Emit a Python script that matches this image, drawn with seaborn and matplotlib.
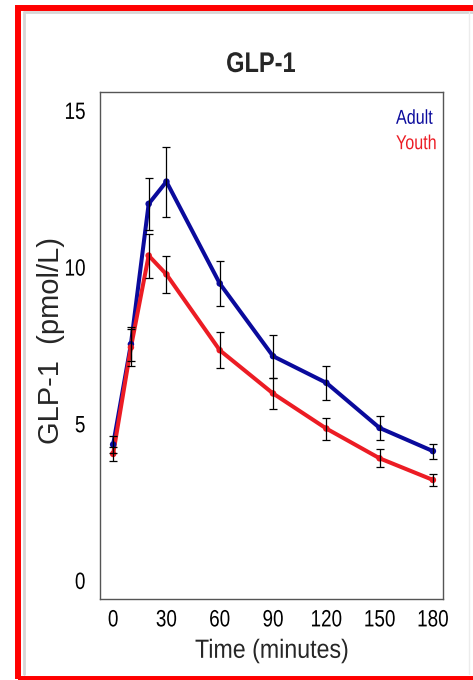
import numpy as np
import pandas as pd
import matplotlib
matplotlib.use("Agg")
import matplotlib.pyplot as plt
from matplotlib.patches import Rectangle
from matplotlib.lines import Line2D
from matplotlib.patheffects import AbstractPathEffect
from matplotlib.transforms import Affine2D
import seaborn as sns

# Sampling times (minutes) and GLP-1 means / standard errors (pmol/L)
time_min = [0, 10, 20, 30, 60, 90, 120, 150, 180]
adult_mean = [4.35, 7.55, 12.03, 12.74, 9.49, 7.17, 6.32, 4.88, 4.14]
adult_se = [0.28, 0.55, 0.84, 1.12, 0.73, 0.69, 0.55, 0.38, 0.24]
youth_mean = [4.05, 7.45, 10.38, 9.78, 7.36, 5.98, 4.86, 3.91, 3.22]
youth_se = [0.23, 0.60, 0.70, 0.60, 0.57, 0.49, 0.35, 0.29, 0.19]

groups = ["Adult", "Youth"]
group_colors = {"Adult": "#0a0a9c", "Youth": "#ec1c24"}
x_ticks = [0, 30, 60, 90, 120, 150, 180]
y_ticks = [0, 5, 10, 15]

df = pd.DataFrame({
    "time": time_min * 2,
    "glp1": adult_mean + youth_mean,
    "se": adult_se + youth_se,
    "group": ["Adult"] * len(time_min) + ["Youth"] * len(time_min),
})


class Tall(AbstractPathEffect):
    """Stretch text glyphs vertically (a condensed look at a smaller size)."""

    def __init__(self, sy, anchor="center"):
        super().__init__()
        self.sy = sy
        self.anchor = anchor

    def draw_path(self, renderer, gc, tpath, affine, rgbFace=None):
        ext = tpath.get_extents()
        y0 = {"baseline": 0.0, "top": ext.y1,
              "center": 0.5 * (ext.y0 + ext.y1)}[self.anchor]
        t = Affine2D().translate(0, -y0).scale(1, self.sy).translate(0, y0) + affine
        renderer.draw_path(gc, tpath, t, rgbFace)


sns.set_style("white")
plt.rcParams["font.family"] = ["Liberation Sans", "DejaVu Sans"]

fig = plt.figure(figsize=(4.73, 6.80), dpi=100)
ax = fig.add_axes([100 / 473, 81 / 680, 343 / 473, 507 / 680])

sns.lineplot(data=df, x="time", y="glp1", hue="group", palette=group_colors,
             linewidth=2.9, legend=False, ax=ax, zorder=3)
sns.scatterplot(data=df, x="time", y="glp1", hue="group", palette=group_colors,
                s=22, linewidth=0, legend=False, ax=ax, zorder=4)
for g in groups:
    sub = df[df["group"] == g]
    ax.errorbar(sub["time"], sub["glp1"], yerr=sub["se"], fmt="none",
                ecolor="black", elinewidth=0.9, capsize=2.6, capthick=0.9,
                zorder=5)

ax.set_xlim(-7.4, 185.7)
ax.set_ylim(-0.58, 15.6)
ax.set_xticks(x_ticks)
ax.set_yticks(y_ticks)
ax.set_xticklabels([str(v) for v in x_ticks], fontsize=13.6)
ax.set_yticklabels([str(v) for v in y_ticks], fontsize=13.6)
for lab in ax.get_xticklabels():
    lab.set_path_effects([Tall(1.25, "top")])
for lab in ax.get_yticklabels():
    lab.set_path_effects([Tall(1.25, "center")])
ax.tick_params(axis="both", which="major", direction="out", length=5,
               width=0.9, color="#555555", labelcolor="black")
ax.tick_params(axis="x", pad=3)
ax.tick_params(axis="y", pad=5.5)
for sp in ax.spines.values():
    sp.set_visible(True)
    sp.set_color("#555555")
    sp.set_linewidth(1.0)

ax.set_xlabel("Time (minutes)", fontsize=16.7,
              path_effects=[Tall(1.136, "top")])
ax.set_ylabel("GLP-1  (pmol/L)", fontsize=21)
ax.xaxis.set_label_coords(0.5, -0.076)
ax.yaxis.set_label_coords(-0.102, 0.51)

ax.text(0.863, 0.949, "Adult", transform=ax.transAxes, ha="left", va="center",
        color=group_colors["Adult"], fontsize=11.6,
        path_effects=[Tall(1.25, "center")])
ax.text(0.863, 0.899, "Youth", transform=ax.transAxes, ha="left", va="center",
        color=group_colors["Youth"], fontsize=11.6,
        path_effects=[Tall(1.25, "center")])

fig.text(261 / 473, 1 - 72 / 680, "GLP-1", ha="center", va="baseline",
         fontsize=17, fontweight="bold", path_effects=[Tall(1.205, "baseline")])

# Red frame around the panel, with a faint shadow along its inner top/left
ft = fig.transFigure
fig.lines.append(Line2D([23.5 / 473, 23.5 / 473], [1 - 12 / 680, 6 / 680],
                        transform=ft, color="#d6d6d6", linewidth=2.0, zorder=0))
fig.lines.append(Line2D([23.5 / 473, 1.0], [1 - 12 / 680, 1 - 12 / 680],
                        transform=ft, color="#d6d6d6", linewidth=2.0, zorder=0))
fig.lines.append(Line2D([469 / 473, 469 / 473], [1 - 12 / 680, 6 / 680],
                        transform=ft, color="#ececec", linewidth=1.0, zorder=0))
fig.patches.append(Rectangle((18 / 473, 1.5 / 680), 470 / 473, 670.5 / 680,
                             transform=ft, fill=False,
                             edgecolor="#ff0000", linewidth=4.3, zorder=1))

fig.savefig("out.png", dpi=100)
